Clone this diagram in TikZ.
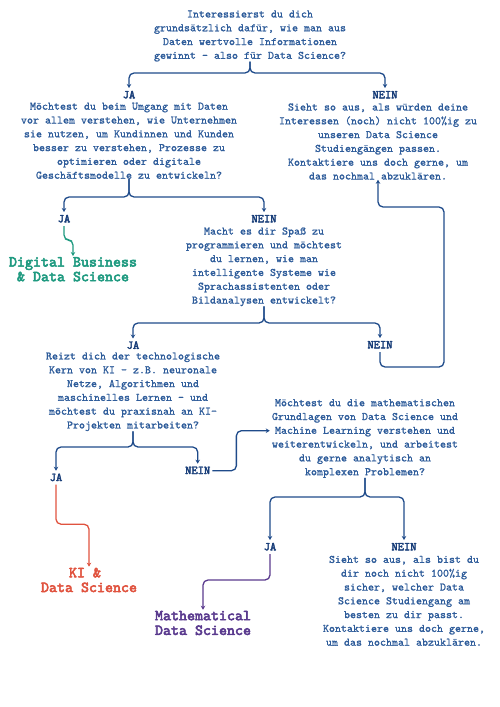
\documentclass[tikz,border=0pt]{standalone}
\usepackage{fontspec}
\newfontfamily\bodyfont{lmmono10-regular.otf}[FakeBold=1.2]
\newfontfamily\heavyfont{lmmono10-regular.otf}[FakeBold=3.5]
\usetikzlibrary{arrows.meta}
\definecolor{textblue}{HTML}{2E5C9A}
\definecolor{lineblue}{HTML}{1F4B8A}
\definecolor{labelblue}{HTML}{1A3F7A}
\definecolor{dbgreen}{HTML}{1F9A80}
\definecolor{kired}{HTML}{E0533F}
\definecolor{mdpurple}{HTML}{5A3A8E}
\begin{document}
\begin{tikzpicture}[x=1bp,y=-1bp,
  qbox/.style={align=center, text=textblue, font=\bodyfont\fontsize{11.43bp}{13.8bp}\selectfont, inner sep=0pt},
  lab/.style={text=labelblue, font=\heavyfont\fontsize{11.9bp}{12bp}\selectfont, text height=6.6bp, text depth=0pt, inner xsep=2bp, inner ysep=3.5bp},
  res/.style={align=center, font=\heavyfont\fontsize{15.24bp}{14.7bp}\selectfont, inner sep=1bp},
  conn/.style={draw=lineblue, line width=1.3bp, rounded corners=5bp, -{Stealth[length=4bp,width=4.5bp]}}
]
\useasboundingbox (0,0) rectangle (500,707);

% questions and texts
\node[qbox] (q1) at (250,36) {Interessierst du dich\\grundsätzlich dafür, wie man aus\\Daten wertvolle Informationen\\gewinnt - also für Data Science?};
\node[lab] (ja1) at (129,95) {JA};
\node[lab] (nein1) at (385,95) {NEIN};
\node[qbox] (q2) at (129,140.8) {Möchtest du beim Umgang mit Daten\\vor allem verstehen, wie Unternehmen\\sie nutzen, um Kundinnen und Kunden\\besser zu verstehen, Prozesse zu\\optimieren oder digitale\\Geschäftsmodelle zu entwickeln?};
\node[qbox] (no1) at (378,141.5) {Sieht so aus, als würden deine\\Interessen (noch) nicht 100\%ig zu\\unseren Data Science\\Studiengängen passen.\\Kontaktiere uns doch gerne, um\\das nochmal abzuklären.};
\node[lab] (ja2) at (64,219) {JA};
\node[lab] (nein2) at (264,219) {NEIN};
\node[res, text=dbgreen] (dbds) at (73,269.3) {Digital Business\\\& Data Science};
\node[qbox] (q3) at (264,266.8) {Macht es dir Spaß zu\\programmieren und möchtest\\du lernen, wie man\\intelligente Systeme wie\\Sprachassistenten oder\\Bildanalysen entwickelt?};
\node[lab] (ja3) at (133,345.5) {JA};
\node[lab] (nein3) at (380,345) {NEIN};
\node[qbox] (q4) at (133,391.8) {Reizt dich der technologische\\Kern von KI - z.B. neuronale\\Netze, Algorithmen und\\maschinelles Lernen - und\\möchtest du praxisnah an KI-\\Projekten mitarbeiten?};
\node[lab] (ja4) at (56,477.7) {JA};
\node[lab] (nein4) at (197.7,470.7) {NEIN};
\node[qbox] (q5) at (365,438.5) {Möchtest du die mathematischen\\Grundlagen von Data Science und\\Machine Learning verstehen und\\weiterentwickeln, und arbeitest\\du gerne analytisch an\\komplexen Problemen?};
\node[lab] (ja5) at (270,547) {JA};
\node[lab] (nein5) at (404,547) {NEIN};
\node[res, text=kired] (kids) at (89,580) {KI \&\hphantom{x}\\Data Science};
\node[res, text=mdpurple] (mds) at (203,623) {Mathematical\\Data Science};
\node[qbox] (no2) at (404,600.8) {Sieht so aus, als bist du\\dir noch nicht 100\%ig\\sicher, welcher Data\\Science Studiengang am\\besten zu dir passt.\\Kontaktiere uns doch gerne,\\um das nochmal abzuklären.};

% brace joints and loop corners
\coordinate (b1) at (250,73);
\coordinate (b2) at (129,197);
\coordinate (b3) at (264,323);
\coordinate (b4) at (133,447);
\coordinate (b5) at (365,497);
\coordinate (l1) at (444,367);
\coordinate (l2) at (444,207);

% connectors
\draw[conn] (q1.south) -- (b1) -| (ja1.north);
\draw[conn] (q1.south) -- (b1) -| (nein1.north);
\draw[conn] (q2.south) -- (b2) -| (ja2.north);
\draw[conn] (q2.south) -- (b2) -| (nein2.north);
\draw[conn] (q3.south) -- (b3) -| (ja3.north);
\draw[conn] (q3.south) -- (b3) -| (nein3.north);
\draw[conn] (q4.south) -- (b4) -| (ja4.north);
\draw[conn] (q4.south) -- (b4) -| (nein4.north);
\draw[conn] (q5.south) -- (b5) -| (ja5.north);
\draw[conn] (q5.south) -- (b5) -| (nein5.north);

\draw[conn] (nein3.south) |- (l1) -- (l2) -| (no1.south);
\draw[conn] (nein4.east) -- ++(24,0) |- ([xshift=-2bp,yshift=7.8bp]q5.west);

\draw[conn, draw=dbgreen] (ja2.south) -- ++(0,14) -| (dbds.north);
\draw[conn, draw=kired] (ja4.south) -- ++(0,39.5) -| (kids.north);
\draw[conn, draw=mdpurple] (ja5.south) -- ++(0,26) -| (mds.north);
\end{tikzpicture}
\end{document}
